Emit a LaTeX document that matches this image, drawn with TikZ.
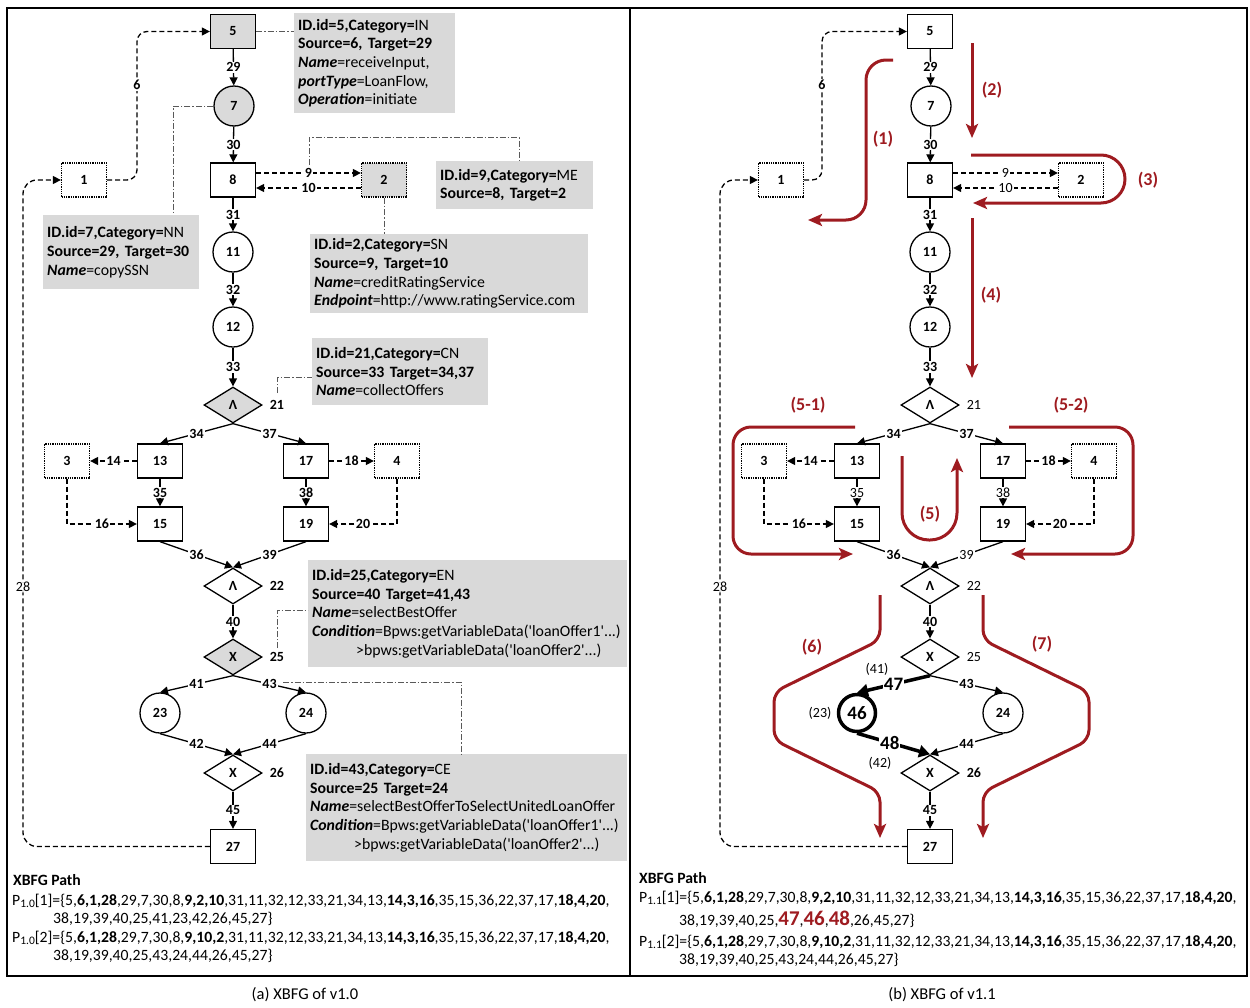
\documentclass[tikz,border=0pt]{standalone}
\usepackage{fontspec}
\setmainfont{Carlito}
\usetikzlibrary{arrows.meta,shapes.geometric,calc}

\definecolor{nodegray}{RGB}{218,218,218}
\definecolor{annogray}{RGB}{217,217,217}
\definecolor{pathred}{RGB}{158,27,32}

\tikzset{
  every node/.style={inner sep=0pt},
  hl/.style={},
  rl/.style={},
  fbox/.style={draw, line width=1.3pt, minimum width=45pt, minimum height=34pt,
    font=\bfseries\fontsize{14}{16}\selectfont},
  sbox/.style={fbox, densely dotted},
  act/.style={circle, draw, line width=1.3pt, minimum size=40pt,
    font=\bfseries\fontsize{14}{16}\selectfont},
  gate/.style={diamond, draw, line width=1.3pt, minimum width=58pt, minimum height=36pt,
    font=\bfseries\fontsize{14}{16}\selectfont},
  lab/.style={fill=white, inner sep=1pt, font=\bfseries\fontsize{14}{16}\selectfont},
  glab/.style={font=\bfseries\fontsize{14}{16}\selectfont},
  flow/.style={line width=1.3pt, -{Triangle[length=8pt,width=8pt]}},
  msg/.style={flow, dash pattern=on 5pt off 3pt},
  link/.style={draw=black!65, line width=0.7pt, dash pattern=on 6pt off 2pt on 1.5pt off 2pt},
  anno/.style={fill=annogray, align=left, anchor=north west, inner xsep=4pt, inner ysep=0pt,
    font=\fontsize{15.8}{18.7}\selectfont},
  ptext/.style={anchor=base west, font=\fontsize{15.7}{18}\selectfont},
  redflow/.style={draw=pathred, line width=3pt, -{Stealth[length=14pt,width=12pt,inset=3pt]}},
  redlab/.style={text=pathred, font=\bfseries\fontsize{18}{20}\selectfont},
  caption/.style={font=\fontsize{16.5}{18}\selectfont},
}

\newcommand{\sub}[1]{\raisebox{-2.5pt}{\fontsize{11.5}{11.5}\selectfont #1}}
\newcommand{\q}{\textquotesingle}

% the part of the flow graph shared by both versions
% #1 = name prefix, #2 = x of the vertical run of edge 6
\newcommand{\xbfgcore}[2]{%
  \node[fbox,hl] (#1-5) at (233,31.5) {5};
  \node[act,hl] (#1-7) at (234,106) {7};
  \node[fbox] (#1-8) at (233,180) {8};
  \node[sbox] (#1-1) at (84,180) {1};
  \node[sbox,hl] (#1-2) at (384,180) {2};
  \node[act] (#1-11) at (233,252) {11};
  \node[act] (#1-12) at (233,327) {12};
  \node[gate,hl] (#1-21) at (233,405) {Λ};
  \node[fbox] (#1-13) at (160,461) {13};
  \node[fbox] (#1-17) at (306,461) {17};
  \node[sbox] (#1-3) at (67,461) {3};
  \node[sbox] (#1-4) at (397,461) {4};
  \node[fbox] (#1-15) at (160,524) {15};
  \node[fbox] (#1-19) at (306,524) {19};
  \node[gate] (#1-22) at (233,586) {Λ};
  \node[gate,hl] (#1-25) at (233,657) {X};
  \node[act] (#1-24) at (306,713) {24};
  \node[gate] (#1-26) at (233,773) {X};
  \node[fbox] (#1-27) at (233,846.5) {27};
  % gateway identifiers
  \node[glab,rl,anchor=west] (#1-g21) at ([xshift=7pt]#1-21.east) {21};
  \node[glab,rl,anchor=west] (#1-g22) at ([xshift=7pt]#1-22.east) {22};
  \node[glab,rl,anchor=west] (#1-g25) at ([xshift=7pt]#1-25.east) {25};
  \node[glab,anchor=west] (#1-g26) at ([xshift=7pt]#1-26.east) {26};
  % control flow
  \draw[flow] (#1-5) -- node[lab]{29} (#1-7);
  \draw[flow] (#1-7) -- node[lab]{30} (#1-8);
  \draw[flow] (#1-8) -- node[lab]{31} (#1-11);
  \draw[flow] (#1-11) -- node[lab]{32} (#1-12);
  \draw[flow] (#1-12) -- node[lab]{33} (#1-21);
  \draw[flow] (#1-21.south) -- node[lab]{34} (#1-13.north);
  \draw[flow] (#1-21.south) -- node[lab]{37} (#1-17.north);
  \draw[flow] (#1-13) -- node[lab,rl]{35} (#1-15);
  \draw[flow] (#1-17) -- node[lab,rl]{38} (#1-19);
  \draw[flow] (#1-15.south) -- node[lab]{36} (#1-22.north);
  \draw[flow] (#1-19.south) -- node[lab,rl]{39} (#1-22.north);
  \draw[flow] (#1-22) -- node[lab]{40} (#1-25);
  \draw[flow] (#1-25.south) -- node[lab]{43} (#1-24.north);
  \draw[flow] (#1-24.south) -- node[lab]{44} (#1-26.north);
  \draw[flow] (#1-26) -- node[lab]{45} (#1-27);
  % message and service links
  \draw[msg] ([yshift=7pt]#1-8.east) -- node[lab,rl]{9} ([yshift=7pt]#1-2.west);
  \draw[msg] ([yshift=-8pt]#1-2.west) -- node[lab,rl]{10} ([yshift=-8pt]#1-8.east);
  \draw[msg] (#1-13) -- node[lab]{14} (#1-3);
  \draw[msg] (#1-3.south) |- node[lab,pos=0.75]{16} (#1-15.west);
  \draw[msg] (#1-17) -- node[lab]{18} (#1-4);
  \draw[msg] (#1-4.south) |- node[lab,pos=0.75]{20} (#1-19.east);
  \draw[msg, rounded corners=10pt] (#1-1.east) -- (#2,180) -- node[lab,pos=0.64]{6} (#2,31.5) -- (#1-5.west);
  \draw[msg, rounded corners=14pt] (#1-27.west) -- (23,846.5) -- node[lab,pos=0.39,font=\fontsize{14}{16}\selectfont]{28} (23,180) -- (#1-1.west);
}

\begin{document}
\begin{tikzpicture}[x=1pt,y=-1pt]
\useasboundingbox (0,0) rectangle (1250,1007);

% panel frames
\draw[line width=2.4pt] (7,8) rectangle (1247,976);
\draw[line width=2.4pt] (630,8) -- (630,976);

% ---------------- version 1.0 ----------------
\begin{scope}[hl/.style={fill=nodegray}]
  \xbfgcore{a}{137}
  \node[act] (a-23) at (160,713) {23};
  \draw[flow] (a-25.south) -- node[lab]{41} (a-23.north);
  \draw[flow] (a-23.south) -- node[lab]{42} (a-26.north);

  % attribute boxes
  \node[anno, text width=153pt, minimum height=100pt] (an5) at (294,13) {%
    \textbf{ID.id=5,Category=}IN\\
    \textbf{Source=6, Target=29}\\
    \textbf{\textit{Name}}=receiveInput,\\
    \textbf{\textit{portType}}=LoanFlow,\\
    \textbf{\textit{Operation}}=initiate};
  \node[anno, text width=148pt, minimum height=74pt] (an7) at (43,215) {%
    \textbf{ID.id=7,Category=}NN\\
    \textbf{Source=29, Target=30}\\
    \textbf{\textit{Name}}=copySSN};
  \node[anno, text width=149pt, minimum height=48pt] (an9) at (436,161) {%
    \textbf{ID.id=9,Category=}ME\\
    \textbf{Source=8, Target=2}};
  \node[anno, text width=270pt, minimum height=79pt] (an2) at (310,234) {%
    \textbf{ID.id=2,Category=}SN\\
    \textbf{Source=9, Target=10}\\
    \textbf{\textit{Name}}=creditRatingService\\
    \textbf{\textit{Endpoint}}=http://www.ratingService.com};
  \node[anno, text width=168pt, minimum height=67pt] (an21) at (312,338) {%
    \textbf{ID.id=21,Category=}CN\\
    \textbf{Source=33 Target=34,37}\\
    \textbf{\textit{Name}}=collectOffers};
  \node[anno, text width=311pt, minimum height=107pt] (an25) at (308,560) {%
    \textbf{ID.id=25,Category=}EN\\
    \textbf{Source=40 Target=41,43}\\
    \textbf{\textit{Name}}=selectBestOffer\\
    \textbf{\textit{Condition}}=Bpws:getVariableData(\q loanOffer1\q...)\\
    \hspace*{44pt}>bpws:getVariableData(\q loanOffer2\q...)};
  \node[anno, text width=313pt, minimum height=107pt] (an43) at (306,754) {%
    \textbf{ID.id=43,Category=}CE\\
    \textbf{Source=25 Target=24}\\
    \textbf{\textit{Name}}=selectBestOfferToSelectUnitedLoanOffer\\
    \textbf{\textit{Condition}}=Bpws:getVariableData(\q loanOffer1\q...)\\
    \hspace*{44pt}>bpws:getVariableData(\q loanOffer2\q...)};

  % links from elements to their attribute boxes
  \draw[link] (a-5.east) -- (an5.west |- a-5.east);
  \draw[link] (a-7.west) -- (173,106) -- (an7.north -| 173,0);
  \draw[link] (309,165) -- (309,137) -- (519,137) -- (an9.north -| 519,0);
  \draw[link] (a-2.south) -- (an2.north -| a-2.south);
  \draw[link] (277,393) -- (277,377) -- (an21.west |- 0,377);
  \draw[link] (277,648) -- (277,610) -- (an25.west |- 0,610);
  \draw[link] (283,682) -- (461,682) -- (an43.north -| 461,0);

  % paths
  \node[ptext, font=\bfseries\fontsize{15.7}{18}\selectfont] (pa0) at (13,885) {XBFG Path};
  \node[ptext] (pa1) at (12,905) {P\sub{1.0}[1]=\{5,\textbf{6,1,28},29,7,30,8,\textbf{9,2,10},31,11,32,12,33,21,34,13,\textbf{14,3,16},35,15,36,22,37,17,\textbf{18,4,20},};
  \node[ptext] (pa2) at (53,923) {38,19,39,40,25,41,23,42,26,45,27\}};
  \node[ptext] (pa3) at (12,942) {P\sub{1.0}[2]=\{5,\textbf{6,1,28},29,7,30,8,\textbf{9,10,2},31,11,32,12,33,21,34,13,\textbf{14,3,16},35,15,36,22,37,17,\textbf{18,4,20},};
  \node[ptext] (pa4) at (53,960) {38,19,39,40,25,43,24,44,26,45,27\}};
\end{scope}

% ---------------- version 1.1 ----------------
\begin{scope}[xshift=697pt, rl/.style={font=\fontsize{14}{16}\selectfont}]
  \xbfgcore{b}{125}
\end{scope}

% replaced activity on the left branch
\node[act, line width=3.5pt, minimum size=37pt, font=\bfseries\fontsize{19}{21}\selectfont] (b-46) at (857,713) {46};
\draw[line width=3.5pt, -{Triangle[length=11pt,width=12pt]}] (b-25.south) -- node[lab, font=\bfseries\fontsize{19}{21}\selectfont]{47} (b-46.north);
\draw[line width=3.5pt, -{Triangle[length=11pt,width=12pt]}] (b-46.south) -- node[lab, pos=0.45, font=\bfseries\fontsize{19}{21}\selectfont]{48} (b-26.north);
\node[font=\fontsize{14}{16}\selectfont] (o41) at (877,669) {(41)};
\node[font=\fontsize{14}{16}\selectfont] (o23) at (820,713) {(23)};
\node[font=\fontsize{14}{16}\selectfont] (o42) at (880,763) {(42)};

% traversal order
\draw[redflow, rounded corners=20pt] (893,60) -- (866,60) -- (866,220) -- (808,220);
\node[redlab] (r1) at (883,139) {(1)};
\draw[redflow] (972,43) -- (972,138);
\node[redlab] (r2) at (992,90) {(2)};
\draw[redflow, rounded corners=24pt] (971,155) -- (1125,155) -- (1125,203) -- (973,203);
\node[redlab] (r3) at (1148,180) {(3)};
\draw[redflow] (972,218) -- (972,378);
\node[redlab] (r4) at (991,295) {(4)};
\draw[redflow, rounded corners=18pt] (855,427) -- (733,427) -- (733,554) -- (853,554);
\node[redlab] (r51) at (808,405) {(5-1)};
\draw[redflow, rounded corners=18pt] (1009,427) -- (1133,427) -- (1133,554) -- (1011,554);
\node[redlab] (r52) at (1071,405) {(5-2)};
\draw[redflow, rounded corners=27pt] (902,456) -- (902,540) -- (957,540) -- (957,458);
\node[redlab] (r5) at (930,514) {(5)};
\draw[redflow, rounded corners=10pt] (880,595) -- (880,640) -- (774,692) -- (774,740) -- (880,792) -- (880,838);
\node[redlab] (r6) at (812,647) {(6)};
\draw[redflow, rounded corners=10pt] (983,595) -- (983,640) -- (1089,692) -- (1089,740) -- (983,792) -- (983,838);
\node[redlab] (r7) at (1042,644) {(7)};

% paths
\node[ptext, font=\bfseries\fontsize{15.7}{18}\selectfont] (pb0) at (639,883) {XBFG Path};
\node[ptext] (pb1) at (639,902) {P\sub{1.1}[1]=\{5,\textbf{6,1,28},29,7,30,8,\textbf{9,2,10},31,11,32,12,33,21,34,13,\textbf{14,3,16},35,15,36,22,37,17,\textbf{18,4,20},};
\node[ptext] (pb2) at (679,925) {38,19,39,40,25,{\color{pathred}\bfseries\fontsize{21}{21}\selectfont 47},{\color{pathred}\bfseries\fontsize{21}{21}\selectfont 46},{\color{pathred}\bfseries\fontsize{21}{21}\selectfont 48},26,45,27\}};
\node[ptext] (pb3) at (639,946) {P\sub{1.1}[2]=\{5,\textbf{6,1,28},29,7,30,8,\textbf{9,10,2},31,11,32,12,33,21,34,13,\textbf{14,3,16},35,15,36,22,37,17,\textbf{18,4,20},};
\node[ptext] (pb4) at (679,964) {38,19,39,40,25,43,24,44,26,45,27\}};

% captions
\node[caption] (capa) at (305,995) {(a) XBFG of v1.0};
\node[caption] (capb) at (942,995) {(b) XBFG of v1.1};
\end{tikzpicture}
\end{document}
